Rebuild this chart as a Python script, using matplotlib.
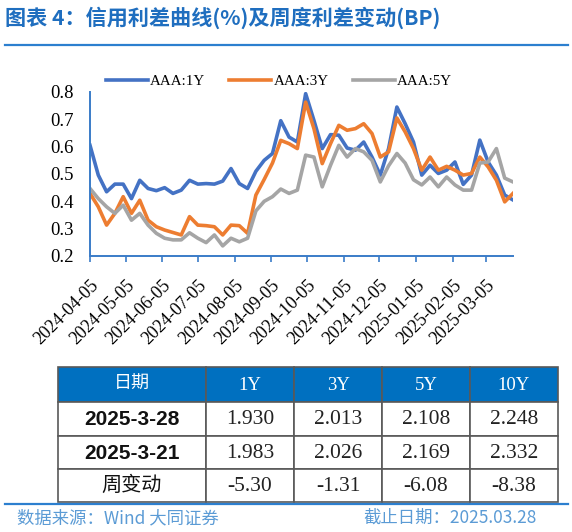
import matplotlib
matplotlib.use('Agg')
import matplotlib.pyplot as plt
import matplotlib.dates as mdates
from matplotlib.patches import Rectangle
import pandas as pd

# weekly credit spread data (%), Fridays 2024-04-05 .. 2025-03-28
dates = pd.date_range('2024-04-05', '2025-03-28', freq='7D')

aaa_1y = [0.605, 0.496, 0.435, 0.463, 0.463, 0.410, 0.477, 0.447, 0.439, 0.450,
          0.429, 0.441, 0.477, 0.463, 0.465, 0.463, 0.474, 0.520, 0.465, 0.447,
          0.510, 0.550, 0.575, 0.695, 0.635, 0.617, 0.794, 0.696, 0.593, 0.644,
          0.642, 0.595, 0.587, 0.617, 0.562, 0.496, 0.593, 0.745, 0.684, 0.617,
          0.496, 0.532, 0.502, 0.514, 0.544, 0.462, 0.496, 0.624, 0.544, 0.496,
          0.423, 0.405]
aaa_3y = [0.429, 0.380, 0.313, 0.356, 0.417, 0.356, 0.404, 0.331, 0.307, 0.295,
          0.286, 0.277, 0.344, 0.313, 0.311, 0.307, 0.277, 0.313, 0.311, 0.283,
          0.423, 0.480, 0.540, 0.623, 0.611, 0.593, 0.763, 0.666, 0.538, 0.611,
          0.678, 0.660, 0.666, 0.684, 0.648, 0.562, 0.581, 0.705, 0.654, 0.593,
          0.514, 0.562, 0.514, 0.528, 0.514, 0.496, 0.502, 0.562, 0.526, 0.477,
          0.398, 0.429]
aaa_5y = [0.447, 0.410, 0.380, 0.356, 0.386, 0.331, 0.356, 0.313, 0.283, 0.265,
          0.259, 0.259, 0.285, 0.265, 0.249, 0.277, 0.237, 0.265, 0.252, 0.265,
          0.365, 0.400, 0.417, 0.445, 0.429, 0.441, 0.569, 0.562, 0.453, 0.532,
          0.605, 0.562, 0.593, 0.581, 0.550, 0.471, 0.530, 0.575, 0.540, 0.479,
          0.460, 0.489, 0.453, 0.489, 0.460, 0.441, 0.441, 0.540, 0.544, 0.593,
          0.485, 0.471]
series_labels = ['AAA:1Y', 'AAA:3Y', 'AAA:5Y']
series_colors = ['#4472C4', '#ED7D31', '#A5A5A5']

# table
table_header = ['日期', '1Y', '3Y', '5Y', '10Y']
row_names = ['2025-3-28', '2025-3-21', '周变动']
yield_0328 = [1.930, 2.013, 2.108, 2.248]
yield_0321 = [1.983, 2.026, 2.169, 2.332]
weekly_chg = [-5.30, -1.31, -6.08, -8.38]

title = '图表 4：信用利差曲线(%)及周度利差变动(BP)'
source = '数据来源：Wind 大同证券'
cutoff = '截止日期：2025.03.28'

CJK = ['Noto Sans CJK SC', 'DejaVu Sans']
SERIF = 'Liberation Serif'
W, H = 572, 532

fig = plt.figure(figsize=(W / 100, H / 100), dpi=100)

# ---- line chart ----
ax = fig.add_axes([90 / W, (H - 256) / H, 423 / W, 164 / H])
for vals, lab, col in zip([aaa_1y, aaa_3y, aaa_5y], series_labels, series_colors):
    ax.plot(dates, vals, color=col, lw=2.6, label=lab, solid_joinstyle='round')

ax.set_ylim(0.2, 0.8)
ax.set_yticks([0.2, 0.3, 0.4, 0.5, 0.6, 0.7, 0.8])
ax.yaxis.set_major_formatter(matplotlib.ticker.FormatStrFormatter('%.1f'))
ax.set_xlim(dates[0], dates[-1])
ax.xaxis.set_major_locator(mdates.MonthLocator(bymonthday=5))
ax.xaxis.set_major_formatter(mdates.DateFormatter('%Y-%m-%d'))

for s in ['top', 'right']:
    ax.spines[s].set_visible(False)
for s in ['left', 'bottom']:
    ax.spines[s].set_color('#3A7CC8')
    ax.spines[s].set_linewidth(1.4)
ax.tick_params(axis='y', length=0, pad=12, labelsize=13.5)
ax.tick_params(axis='x', length=4, width=1.2, color='#3A7CC8', direction='out',
               pad=11, labelsize=13)
for lbl in ax.get_yticklabels():
    lbl.set_fontfamily(SERIF)
for lbl in ax.get_xticklabels():
    lbl.set_fontfamily(SERIF)
    lbl.set_rotation(45)
    lbl.set_ha('right')
    lbl.set_rotation_mode('anchor')

fig.legend(loc='center', bbox_to_anchor=(279 / W, 1 - 81 / H), ncol=3, frameon=False,
           prop={'family': SERIF, 'size': 10.8}, handlelength=2.8,
           handletextpad=0.15, columnspacing=1.6)

# ---- overlay in pixel coords for title, table, footer ----
bg = fig.add_axes([0, 0, 1, 1])
bg.set_xlim(0, W)
bg.set_ylim(H, 0)
bg.axis('off')

bg.text(5, 18, title, fontsize=15.2, fontweight='bold', color='#1F6EBF',
        family=CJK, va='center', ha='left')
bg.plot([5, 568], [44.5, 44.5], color='#2C7FCF', lw=1.6)

col_x = [58, 206, 294, 382, 470, 558]
row_y = [367, 401.5, 435.5, 469, 502]
table_rows = [
    [row_names[0]] + ['%.3f' % v for v in yield_0328],
    [row_names[1]] + ['%.3f' % v for v in yield_0321],
    [row_names[2]] + ['%.2f' % v for v in weekly_chg],
]

# header
for j, txt in enumerate(table_header):
    x0, x1 = col_x[j], col_x[j + 1]
    y0, y1 = row_y[0], row_y[1]
    bg.add_patch(Rectangle((x0, y0), x1 - x0, y1 - y0, facecolor='#0070C0',
                           edgecolor='#595959', lw=1.2))
    if j == 0:
        bg.text((x0 + x1) / 2, (y0 + y1) / 2, txt, color='white', fontsize=13,
                family=CJK, ha='center', va='center')
    else:
        bg.text((x0 + x1) / 2, (y0 + y1) / 2 + 1, txt, color='white', fontsize=13.5,
                family=SERIF, ha='center', va='center')

for i, row in enumerate(table_rows):
    y0, y1 = row_y[i + 1], row_y[i + 2]
    for j, txt in enumerate(row):
        x0, x1 = col_x[j], col_x[j + 1]
        bg.add_patch(Rectangle((x0, y0), x1 - x0, y1 - y0, facecolor='white',
                               edgecolor='#595959', lw=1.2))
        cx, cy = (x0 + x1) / 2, (y0 + y1) / 2
        if j == 0 and i < 2:
            bg.text(cx, cy + 1, txt, fontsize=15, fontweight='bold',
                    family='Liberation Sans', color='#111111', ha='center', va='center')
        elif j == 0:
            bg.text(cx, cy, txt, fontsize=14.5, family=CJK, color='#111111',
                    ha='center', va='center')
        else:
            bg.text(cx, cy + 1, txt, fontsize=15.5, family=SERIF, color='#222222',
                    ha='center', va='center')

bg.plot([5, 568], [503.5, 503.5], color='#2C7FCF', lw=1.6)
bg.text(17, 518, source, fontsize=12.5, color='#5B9BD5', style='italic',
        family=CJK, ha='left', va='center')
bg.text(537, 518, cutoff, fontsize=12.5, color='#5B9BD5', style='italic',
        family=CJK, ha='right', va='center')

fig.savefig('out.png', dpi=100)
